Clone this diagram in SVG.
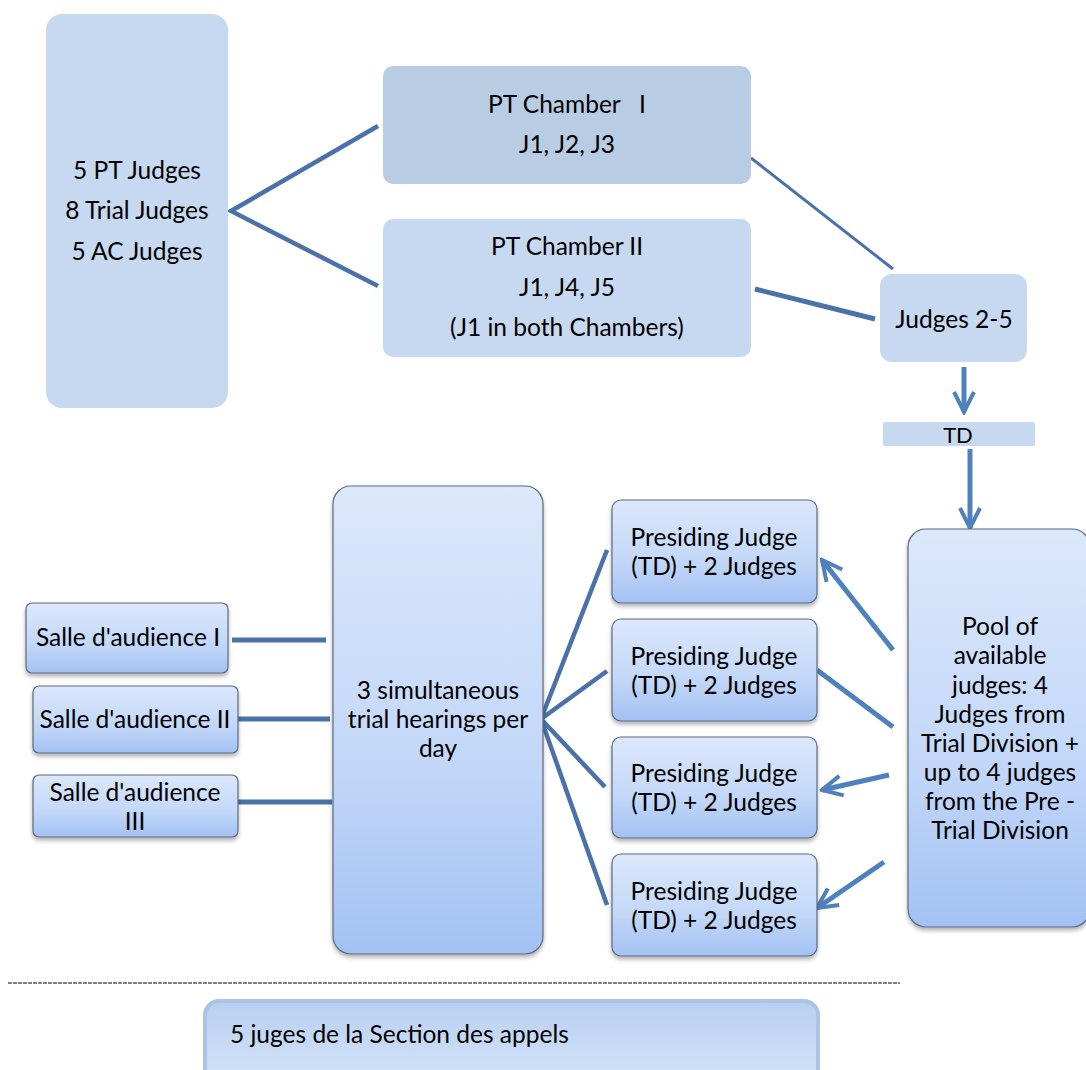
<svg xmlns="http://www.w3.org/2000/svg" width="1086" height="1070" viewBox="0 0 1086 1070">
<defs>
<linearGradient id="g" x1="0" y1="0" x2="0" y2="1">
<stop offset="0" stop-color="#dce8fb"/>
<stop offset="0.6" stop-color="#c2d7f8"/>
<stop offset="1" stop-color="#a3c1f3"/>
</linearGradient>
<linearGradient id="gb" x1="0" y1="0" x2="0" y2="1">
<stop offset="0" stop-color="#b9d0f2"/>
<stop offset="1" stop-color="#d6e4f8"/>
</linearGradient>
<filter id="sh" x="-10%" y="-10%" width="120%" height="130%">
<feDropShadow dx="0" dy="3" stdDeviation="2" flood-color="#000" flood-opacity="0.3"/>
</filter>
<marker id="ah" viewBox="0 0 10 10" refX="9" refY="5" markerWidth="5" markerHeight="5" orient="auto" markerUnits="strokeWidth">
<path d="M1,1 L9,5 L1,9" fill="none" stroke="#4f81bd" stroke-width="1.6"/>
</marker>
</defs>
<style>
text{font-family:Lato,"Open Sans",sans-serif;font-size:24.5px;fill:#000;text-anchor:middle}
.flat{fill:#c6d9f0}
.dk{fill:#b8cce4}
.gr{fill:url(#g);stroke:#5a6a80;stroke-width:1.2;filter:url(#sh)}
.c{fill:none;stroke:#4a72a8;stroke-linecap:butt}
.a{fill:none;stroke:#4f81bd;stroke-width:5}
</style>
<rect width="1086" height="1070" fill="#fff"/>

<g id="connectors">
<polyline class="c" points="378,126 231,211 378,286" stroke-width="4.5" stroke="#436a9c"/>
<line class="c" x1="751" y1="158" x2="893" y2="269" stroke-width="3" stroke="#4f7fbd"/>
<line class="c" x1="755" y1="289" x2="875" y2="319" stroke-width="5"/>
<line class="a" x1="964" y1="367" x2="964" y2="412" stroke-width="4" marker-end="url(#ah)"/>
<line class="a" x1="970" y1="449" x2="970" y2="528" stroke-width="3" marker-end="url(#ah)"/>
<line class="c" x1="232" y1="640" x2="326" y2="640" stroke-width="5" stroke="#4f7fbd"/>
<line class="c" x1="236" y1="719" x2="330" y2="719" stroke-width="5" stroke="#4f7fbd"/>
<line class="c" x1="236" y1="802" x2="332" y2="802" stroke-width="5" stroke="#4f7fbd"/>
<line class="c" x1="541" y1="719" x2="607" y2="550" stroke-width="4.5" stroke="#4f7fbd"/>
<line class="c" x1="541" y1="719" x2="607" y2="671" stroke-width="4.5" stroke="#4f7fbd"/>
<line class="c" x1="541" y1="719" x2="605" y2="787" stroke-width="4.5" stroke="#4f7fbd"/>
<line class="c" x1="541" y1="719" x2="607" y2="905" stroke-width="4.5" stroke="#4f7fbd"/>
<line class="a" x1="893" y1="650" x2="822" y2="560" marker-end="url(#ah)"/>
<line class="a" x1="893" y1="727" x2="817" y2="670"/>
<line class="a" x1="889" y1="775" x2="822" y2="790" marker-end="url(#ah)"/>
<line class="a" x1="884" y1="862" x2="817" y2="908" marker-end="url(#ah)"/>
<line x1="8" y1="983" x2="900" y2="983" stroke="#000" stroke-width="1" stroke-dasharray="4,1"/>
</g>

<g id="n-left">
<rect class="flat" x="46" y="14" width="182" height="394" rx="16"/>
<text x="137" y="179">5 PT Judges</text>
<text x="137" y="219">8 Trial Judges</text>
<text x="137" y="260">5 AC Judges</text>
</g>
<g id="n-ptc1">
<rect class="dk" x="383" y="66" width="368" height="118" rx="10"/>
<text x="567" y="113" xml:space="preserve">PT Chamber   I</text>
<text x="567" y="153">J1, J2, J3</text>
</g>
<g id="n-ptc2">
<rect class="flat" x="383" y="219" width="368" height="138" rx="10"/>
<text x="567" y="255">PT Chamber II</text>
<text x="567" y="296">J1, J4, J5</text>
<text x="567" y="336">(J1 in both Chambers)</text>
</g>
<g id="n-judges25">
<rect class="flat" x="880" y="274" width="147" height="88" rx="12"/>
<text x="954" y="328">Judges 2-5</text>
</g>
<g id="n-td">
<rect class="flat" x="883" y="422" width="152" height="24" rx="2"/>
<text x="958" y="443" style="font-size:22px">TD</text>
</g>
<g id="n-pool">
<rect class="gr" x="908" y="529" width="182" height="398" rx="18"/>
<text x="1000" y="635">Pool of</text>
<text x="1000" y="664">available</text>
<text x="1000" y="694">judges: 4</text>
<text x="1000" y="723">Judges from</text>
<text x="1000" y="752">Trial Division +</text>
<text x="1000" y="781">up to 4 judges</text>
<text x="1000" y="810">from the Pre -</text>
<text x="1000" y="839">Trial Division</text>
</g>
<g id="n-sim">
<rect class="gr" x="333" y="486" width="210" height="468" rx="18"/>
<text x="438" y="699">3 simultaneous</text>
<text x="438" y="728">trial hearings per</text>
<text x="438" y="757">day</text>
</g>
<g id="n-salle1">
<rect class="gr" x="26" y="603" width="202" height="70" rx="6"/>
<text x="128" y="646">Salle d'audience I</text>
</g>
<g id="n-salle2">
<rect class="gr" x="33" y="686" width="205" height="67" rx="6"/>
<text x="135" y="728">Salle d'audience II</text>
</g>
<g id="n-salle3">
<rect class="gr" x="33" y="775" width="205" height="62" rx="6"/>
<text x="135" y="801">Salle d'audience</text>
<text x="135" y="830">III</text>
</g>
<g id="n-pj1">
<rect class="gr" x="612" y="500" width="205" height="103" rx="9"/>
<text x="714" y="546">Presiding Judge</text>
<text x="714" y="575">(TD) + 2 Judges</text>
</g>
<g id="n-pj2">
<rect class="gr" x="612" y="619" width="205" height="102" rx="9"/>
<text x="714" y="665">Presiding Judge</text>
<text x="714" y="694">(TD) + 2 Judges</text>
</g>
<g id="n-pj3">
<rect class="gr" x="612" y="737" width="205" height="101" rx="9"/>
<text x="714" y="782">Presiding Judge</text>
<text x="714" y="811">(TD) + 2 Judges</text>
</g>
<g id="n-pj4">
<rect class="gr" x="612" y="854" width="205" height="102" rx="9"/>
<text x="714" y="900">Presiding Judge</text>
<text x="714" y="929">(TD) + 2 Judges</text>
</g>
<g id="n-appeals">
<rect x="205" y="1001" width="613" height="90" rx="14" fill="url(#gb)" stroke="#a9c4e6" stroke-width="4"/>
<text x="230" y="1043" style="text-anchor:start">5 juges de la Section des appels</text>
</g>
</svg>
